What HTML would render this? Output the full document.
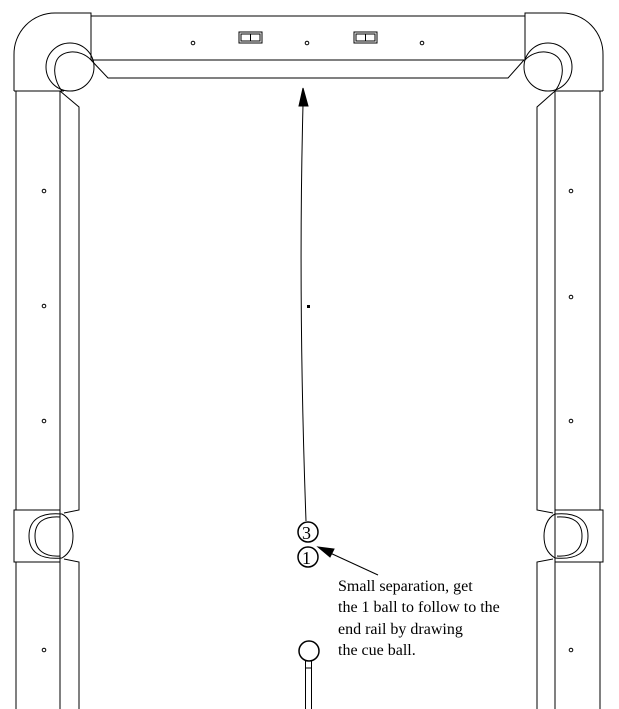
<!DOCTYPE html>
<html><head><style>
html,body{margin:0;padding:0;background:#fff}
svg{display:block}
text{font-family:"Liberation Serif",serif;font-size:16px;fill:#000}
</style></head><body>
<svg width="619" height="709" viewBox="0 0 619 709" xmlns="http://www.w3.org/2000/svg" fill="none" stroke="#000" stroke-width="1">
<line x1="91" y1="16" x2="525" y2="16"/>
<line x1="91" y1="60" x2="525" y2="60"/>
<polyline points="91,60 108,78 508,78 524,60"/>
<path d="M14,91 L14,55 A41,41 0 0 1 55,13 L91,13 L91,60"/>
<line x1="14" y1="91" x2="64" y2="91"/>
<circle cx="70" cy="67" r="24"/>
<path d="M91,60 C80,48 60,50 56,62 C52,74 58,86 62,91"/>
<path d="M603,91 L603,55 A41,41 0 0 0 562,13 L525,13 L525,60"/>
<line x1="603" y1="91" x2="555" y2="91"/>
<circle cx="548" cy="67" r="24"/>
<path d="M525,60 C536,48 556,50 561,62 C565,74 559,86 555,91"/>
<line x1="16" y1="91" x2="16" y2="510"/>
<line x1="60" y1="91" x2="60" y2="510"/>
<polyline points="60,91 79,107 79,510 64,513"/>
<line x1="16" y1="562" x2="16" y2="709"/>
<line x1="60" y1="562" x2="60" y2="709"/>
<polyline points="64,559 79,562 79,709"/>
<rect x="14" y="510" width="46" height="52"/>
<path d="M62,514 C40,512 29,520 29,536 C29,552 40,560 62,558"/>
<path d="M60,517 C44,516 35,522 35,536 C35,550 44,557 60,556"/>
<path d="M62,514 C70,518 73,528 73,536 C73,546 70,553 62,558"/>
<line x1="600" y1="91" x2="600" y2="510"/>
<line x1="555" y1="91" x2="555" y2="510"/>
<polyline points="555,91 537,107 537,510 553,513"/>
<line x1="600" y1="562" x2="600" y2="709"/>
<line x1="555" y1="562" x2="555" y2="709"/>
<polyline points="553,559 537,562 537,709"/>
<rect x="555" y="510" width="48" height="52"/>
<path d="M555,514 C577,512 588,520 588,536 C588,552 577,560 555,558"/>
<path d="M557,517 C573,516 582,522 582,536 C582,550 573,557 557,556"/>
<path d="M555,514 C547,518 544,528 544,536 C544,546 547,553 555,558"/>
<g>
<circle cx="193" cy="43" r="1.8"/><circle cx="307" cy="43" r="1.8"/><circle cx="422" cy="43" r="1.8"/>
<circle cx="44" cy="191" r="1.8"/><circle cx="44" cy="306" r="1.8"/><circle cx="44" cy="421" r="1.8"/><circle cx="44" cy="650" r="1.8"/>
<circle cx="571" cy="191" r="1.8"/><circle cx="571" cy="297" r="1.8"/><circle cx="571" cy="421" r="1.8"/><circle cx="571" cy="650" r="1.8"/>
</g>
<rect x="239" y="32" width="23" height="11"/><rect x="241" y="34" width="19" height="7"/><line x1="250.5" y1="34" x2="250.5" y2="41"/>
<rect x="354" y="32" width="23" height="11"/><rect x="356" y="34" width="19" height="7"/><line x1="365.5" y1="34" x2="365.5" y2="41"/>
<path d="M306,521 Q298,300 303,105"/>
<polygon points="303,88 299,106 308,106" fill="#000"/>
<rect x="307" y="305" width="3" height="3" fill="#000" stroke="none"/>
<circle cx="308" cy="532" r="10" stroke-width="1.5"/>
<circle cx="308" cy="557" r="10" stroke-width="1.5"/>
<text x="302" y="539" stroke="none" fill="#000" style="font-size:18px">3</text>
<text x="302" y="564" stroke="none" fill="#000" style="font-size:18px">1</text>
<circle cx="309" cy="651" r="10" stroke-width="1.5"/>
<rect x="305.5" y="661" width="6" height="50"/>
<line x1="305.5" y1="668" x2="311.5" y2="668"/>
<line x1="378" y1="575" x2="328" y2="552"/>
<polygon points="318,547 334,549 330,557" fill="#000"/>
<g stroke="none">
<text x="338" y="591">Small separation, get</text>
<text x="338" y="612">the 1 ball to follow to the</text>
<text x="338" y="634">end rail by drawing</text>
<text x="338" y="655">the cue ball.</text>
</g>
</svg>
</body></html>
